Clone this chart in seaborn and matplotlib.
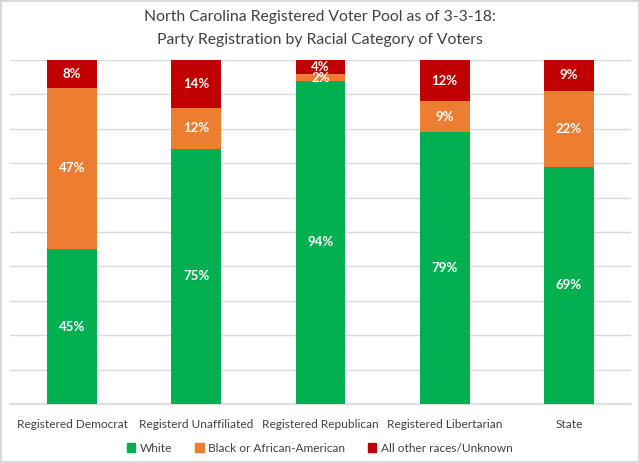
import matplotlib
matplotlib.use("Agg")
import matplotlib.pyplot as plt
import matplotlib.patches as mpatches
import seaborn as sns
import pandas as pd
import numpy as np

categories = ["Registered Democrat", "Registerd Unaffiliated", "Registered Republican",
              "Registered Libertarian", "State"]
white = [45, 75, 94, 79, 69]
black = [47, 12, 2, 9, 22]
other = [8, 14, 4, 12, 9]
series_names = ["White", "Black or African-American", "All other races/Unknown"]
colors = ["#00B050", "#ED7D31", "#C00000"]

sns.set_theme(style="white")
plt.rcParams['font.family'] = ['Lato', 'DejaVu Sans']

w = np.array(white, float); b = np.array(black, float); o = np.array(other, float)
tot = w + b + o
wn = w / tot * 100; bn = b / tot * 100; on = o / tot * 100
df = pd.DataFrame({"cat": categories, "c1": wn, "c2": wn + bn, "c3": wn + bn + on})

fig = plt.figure(figsize=(6.4, 4.63), dpi=100)
fig.patch.set_edgecolor("#D9D9D9")
fig.patch.set_linewidth(1.5)
ax = fig.add_axes([10/640, 59/463, 621/640, 344/463])

for col, c in zip(["c3", "c2", "c1"], colors[::-1]):
    sns.barplot(data=df, x="cat", y=col, color=c, width=0.4, ax=ax,
                saturation=1, linewidth=0, zorder=3)

ax.set_ylim(0, 100)
ax.set_xlim(-0.5, 4.5)
ax.set_yticks(np.arange(0, 101, 10))
ax.set_yticklabels([])
ax.yaxis.grid(True, color="#D9D9D9", linewidth=1, zorder=0)
ax.set_axisbelow(True)
for s in ["top", "right", "left"]:
    ax.spines[s].set_visible(False)
ax.spines["bottom"].set_color("#D9D9D9")
ax.set_xlabel(""); ax.set_ylabel("")
ax.tick_params(axis="x", length=0, pad=11, labelsize=8.6, labelcolor="#404040")
ax.tick_params(axis="y", length=0)

for i in range(len(categories)):
    bottoms = [0, wn[i], wn[i] + bn[i]]
    heights = [wn[i], bn[i], on[i]]
    labels = [white[i], black[i], other[i]]
    for bt, h, lab in zip(bottoms, heights, labels):
        y = bt + h / 2
        if lab == 2:
            y = bt + h / 2 - 0.3
        ax.text(i, y, f"{lab}%", ha="center", va="center", color="white",
                fontsize=9.5, fontweight="bold", zorder=5)

fig.text(0.5, 1 - 17/463, "North Carolina Registered Voter Pool as of 3-3-18:",
         ha="center", va="center", fontsize=11.3, color="#404040")
fig.text(0.5, 1 - 40/463, "Party Registration by Racial Category of Voters",
         ha="center", va="center", fontsize=11.3, color="#404040")

handles = [mpatches.Patch(color=c, label=n) for c, n in zip(colors, series_names)]
leg = fig.legend(handles=handles, loc="center", bbox_to_anchor=(0.5, 1 - 448/463),
                 ncol=3, frameon=False, fontsize=8.6, handlelength=0.7, handleheight=0.7,
                 handletextpad=0.4, columnspacing=1.9)
for t in leg.get_texts():
    t.set_color("#404040")

fig.savefig("out.png", dpi=100)
